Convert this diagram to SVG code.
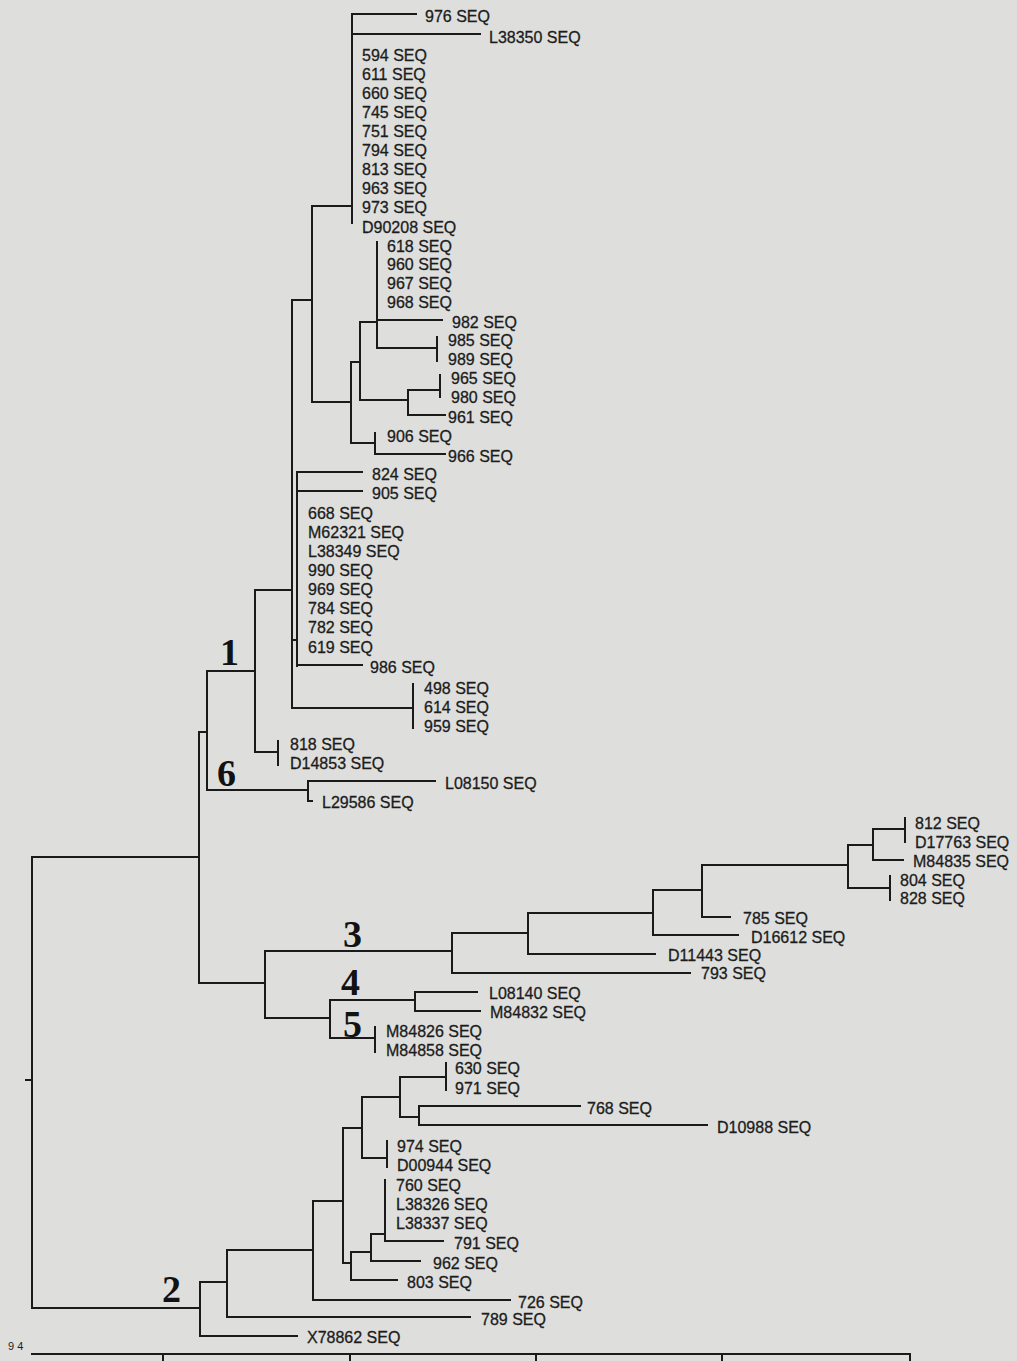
<svg xmlns="http://www.w3.org/2000/svg" width="1017" height="1361" viewBox="0 0 1017 1361">
<style>
.bg{fill:#dedfdc}
.ln{fill:none;stroke:#1a1a1a;stroke-width:2;stroke-linecap:square}
.lb{font-family:"Liberation Sans",Arial,sans-serif;font-size:16px;fill:#1c1c1c;stroke:#1c1c1c;stroke-width:0.3}
.cl{font-family:"Liberation Serif","Times New Roman",serif;font-size:38px;font-weight:bold;fill:#121212}
.sc{font-family:"Liberation Sans",Arial,sans-serif;font-size:11px;fill:#1e1e1e}
</style>
<rect class="bg" x="0" y="0" width="1017" height="1361"/>
<g id="connectors">
<path class="ln" d="M352,14V223M352,14H416M352,34H480M312,206H352M312,206V402M312,402H351M351,362V443M351,362H360M360,322V400M360,322H377M377,242V348M377,320H442M377,348H437M437,337V361M360,400H408M408,390V415M408,390H440M440,375V397M408,415H445M351,443H375M375,433V454M375,454H445"/>
<path class="ln" d="M292,300H312M292,300V708M255,590H292M292,640H297M297,472V666M297,472H362M297,491H362M297,665H362M292,708H413M413,684V728M255,590V752M255,752H278M278,741V765M207,671H255M207,671V790M199,732H207M207,790H308M308,781V801M308,781H435M308,801H312"/>
<path class="ln" d="M32,857H199M199,732V983M199,983H265M265,951V1018M265,951H452M452,933V973M452,933H528M452,973H690M528,913V954M528,913H653M528,954H655M653,890V935M653,935H738M653,890H702M702,865V917M702,917H730M702,865H848M848,845V888M848,845H873M848,888H890M890,876V900M873,829V860M873,829H905M905,818V842M873,860H903"/>
<path class="ln" d="M265,1018H330M330,1000V1038M330,1000H415M415,992V1011M415,992H477M415,1011H480M330,1038H375M375,1027V1052"/>
<path class="ln" d="M32,857V1308M26,1080H32M32,1308H200M200,1282V1336M200,1336H297M200,1282H227M227,1250V1317M227,1317H470M227,1250H313M313,1201V1300M313,1300H510M313,1201H343M343,1128V1263M343,1128H362M362,1097V1158M362,1097H400M400,1077V1117M400,1077H446M446,1063V1090M400,1117H419M419,1106V1125M419,1106H580M419,1125H707M362,1158H387M387,1141V1167M343,1263H351M351,1252V1280M351,1280H397M351,1252H371M371,1234V1261M371,1261H420M371,1234H385M385,1180V1241M385,1241H443"/>
<path class="ln" d="M32,1354H910M163,1354V1361M350,1354V1361M536,1354V1361M722,1354V1361M910,1354V1361"/>
</g>
<g id="scale"><text class="sc" x="8" y="1350">9 4</text></g>
<g id="clade1"><text class="cl" x="220" y="665">1</text></g>
<g id="clade6"><text class="cl" x="217" y="786">6</text></g>
<g id="clade3"><text class="cl" x="343" y="947">3</text></g>
<g id="clade4"><text class="cl" x="341" y="995">4</text></g>
<g id="clade5"><text class="cl" x="343" y="1037">5</text></g>
<g id="clade2"><text class="cl" x="162" y="1302">2</text></g>
<g id="n976"><text class="lb" x="425" y="22">976 SEQ</text></g>
<g id="nL38350"><text class="lb" x="489" y="43">L38350 SEQ</text></g>
<g id="n594"><text class="lb" x="362" y="61">594 SEQ</text></g>
<g id="n611"><text class="lb" x="362" y="80">611 SEQ</text></g>
<g id="n660"><text class="lb" x="362" y="99">660 SEQ</text></g>
<g id="n745"><text class="lb" x="362" y="118">745 SEQ</text></g>
<g id="n751"><text class="lb" x="362" y="137">751 SEQ</text></g>
<g id="n794"><text class="lb" x="362" y="156">794 SEQ</text></g>
<g id="n813"><text class="lb" x="362" y="175">813 SEQ</text></g>
<g id="n963"><text class="lb" x="362" y="194">963 SEQ</text></g>
<g id="n973"><text class="lb" x="362" y="213">973 SEQ</text></g>
<g id="nD90208"><text class="lb" x="362" y="233">D90208 SEQ</text></g>
<g id="n618"><text class="lb" x="387" y="252">618 SEQ</text></g>
<g id="n960"><text class="lb" x="387" y="270">960 SEQ</text></g>
<g id="n967"><text class="lb" x="387" y="289">967 SEQ</text></g>
<g id="n968"><text class="lb" x="387" y="308">968 SEQ</text></g>
<g id="n982"><text class="lb" x="452" y="328">982 SEQ</text></g>
<g id="n985"><text class="lb" x="448" y="346">985 SEQ</text></g>
<g id="n989"><text class="lb" x="448" y="365">989 SEQ</text></g>
<g id="n965"><text class="lb" x="451" y="384">965 SEQ</text></g>
<g id="n980"><text class="lb" x="451" y="403">980 SEQ</text></g>
<g id="n961"><text class="lb" x="448" y="423">961 SEQ</text></g>
<g id="n906"><text class="lb" x="387" y="442">906 SEQ</text></g>
<g id="n966"><text class="lb" x="448" y="462">966 SEQ</text></g>
<g id="n824"><text class="lb" x="372" y="480">824 SEQ</text></g>
<g id="n905"><text class="lb" x="372" y="499">905 SEQ</text></g>
<g id="n668"><text class="lb" x="308" y="519">668 SEQ</text></g>
<g id="nM62321"><text class="lb" x="308" y="538">M62321 SEQ</text></g>
<g id="nL38349"><text class="lb" x="308" y="557">L38349 SEQ</text></g>
<g id="n990"><text class="lb" x="308" y="576">990 SEQ</text></g>
<g id="n969"><text class="lb" x="308" y="595">969 SEQ</text></g>
<g id="n784"><text class="lb" x="308" y="614">784 SEQ</text></g>
<g id="n782"><text class="lb" x="308" y="633">782 SEQ</text></g>
<g id="n619"><text class="lb" x="308" y="653">619 SEQ</text></g>
<g id="n986"><text class="lb" x="370" y="673">986 SEQ</text></g>
<g id="n498"><text class="lb" x="424" y="694">498 SEQ</text></g>
<g id="n614"><text class="lb" x="424" y="713">614 SEQ</text></g>
<g id="n959"><text class="lb" x="424" y="732">959 SEQ</text></g>
<g id="n818"><text class="lb" x="290" y="750">818 SEQ</text></g>
<g id="nD14853"><text class="lb" x="290" y="769">D14853 SEQ</text></g>
<g id="nL08150"><text class="lb" x="445" y="789">L08150 SEQ</text></g>
<g id="nL29586"><text class="lb" x="322" y="808">L29586 SEQ</text></g>
<g id="n812"><text class="lb" x="915" y="829">812 SEQ</text></g>
<g id="nD17763"><text class="lb" x="915" y="848">D17763 SEQ</text></g>
<g id="nM84835"><text class="lb" x="913" y="867">M84835 SEQ</text></g>
<g id="n804"><text class="lb" x="900" y="886">804 SEQ</text></g>
<g id="n828"><text class="lb" x="900" y="904">828 SEQ</text></g>
<g id="n785"><text class="lb" x="743" y="924">785 SEQ</text></g>
<g id="nD16612"><text class="lb" x="751" y="943">D16612 SEQ</text></g>
<g id="nD11443"><text class="lb" x="668" y="961">D11443 SEQ</text></g>
<g id="n793"><text class="lb" x="701" y="979">793 SEQ</text></g>
<g id="nL08140"><text class="lb" x="489" y="999">L08140 SEQ</text></g>
<g id="nM84832"><text class="lb" x="490" y="1018">M84832 SEQ</text></g>
<g id="nM84826"><text class="lb" x="386" y="1037">M84826 SEQ</text></g>
<g id="nM84858"><text class="lb" x="386" y="1056">M84858 SEQ</text></g>
<g id="n630"><text class="lb" x="455" y="1074">630 SEQ</text></g>
<g id="n971"><text class="lb" x="455" y="1094">971 SEQ</text></g>
<g id="n768"><text class="lb" x="587" y="1114">768 SEQ</text></g>
<g id="nD10988"><text class="lb" x="717" y="1133">D10988 SEQ</text></g>
<g id="n974"><text class="lb" x="397" y="1152">974 SEQ</text></g>
<g id="nD00944"><text class="lb" x="397" y="1171">D00944 SEQ</text></g>
<g id="n760"><text class="lb" x="396" y="1191">760 SEQ</text></g>
<g id="nL38326"><text class="lb" x="396" y="1210">L38326 SEQ</text></g>
<g id="nL38337"><text class="lb" x="396" y="1229">L38337 SEQ</text></g>
<g id="n791"><text class="lb" x="454" y="1249">791 SEQ</text></g>
<g id="n962"><text class="lb" x="433" y="1269">962 SEQ</text></g>
<g id="n803"><text class="lb" x="407" y="1288">803 SEQ</text></g>
<g id="n726"><text class="lb" x="518" y="1308">726 SEQ</text></g>
<g id="n789"><text class="lb" x="481" y="1325">789 SEQ</text></g>
<g id="nX78862"><text class="lb" x="307" y="1343">X78862 SEQ</text></g>
</svg>
